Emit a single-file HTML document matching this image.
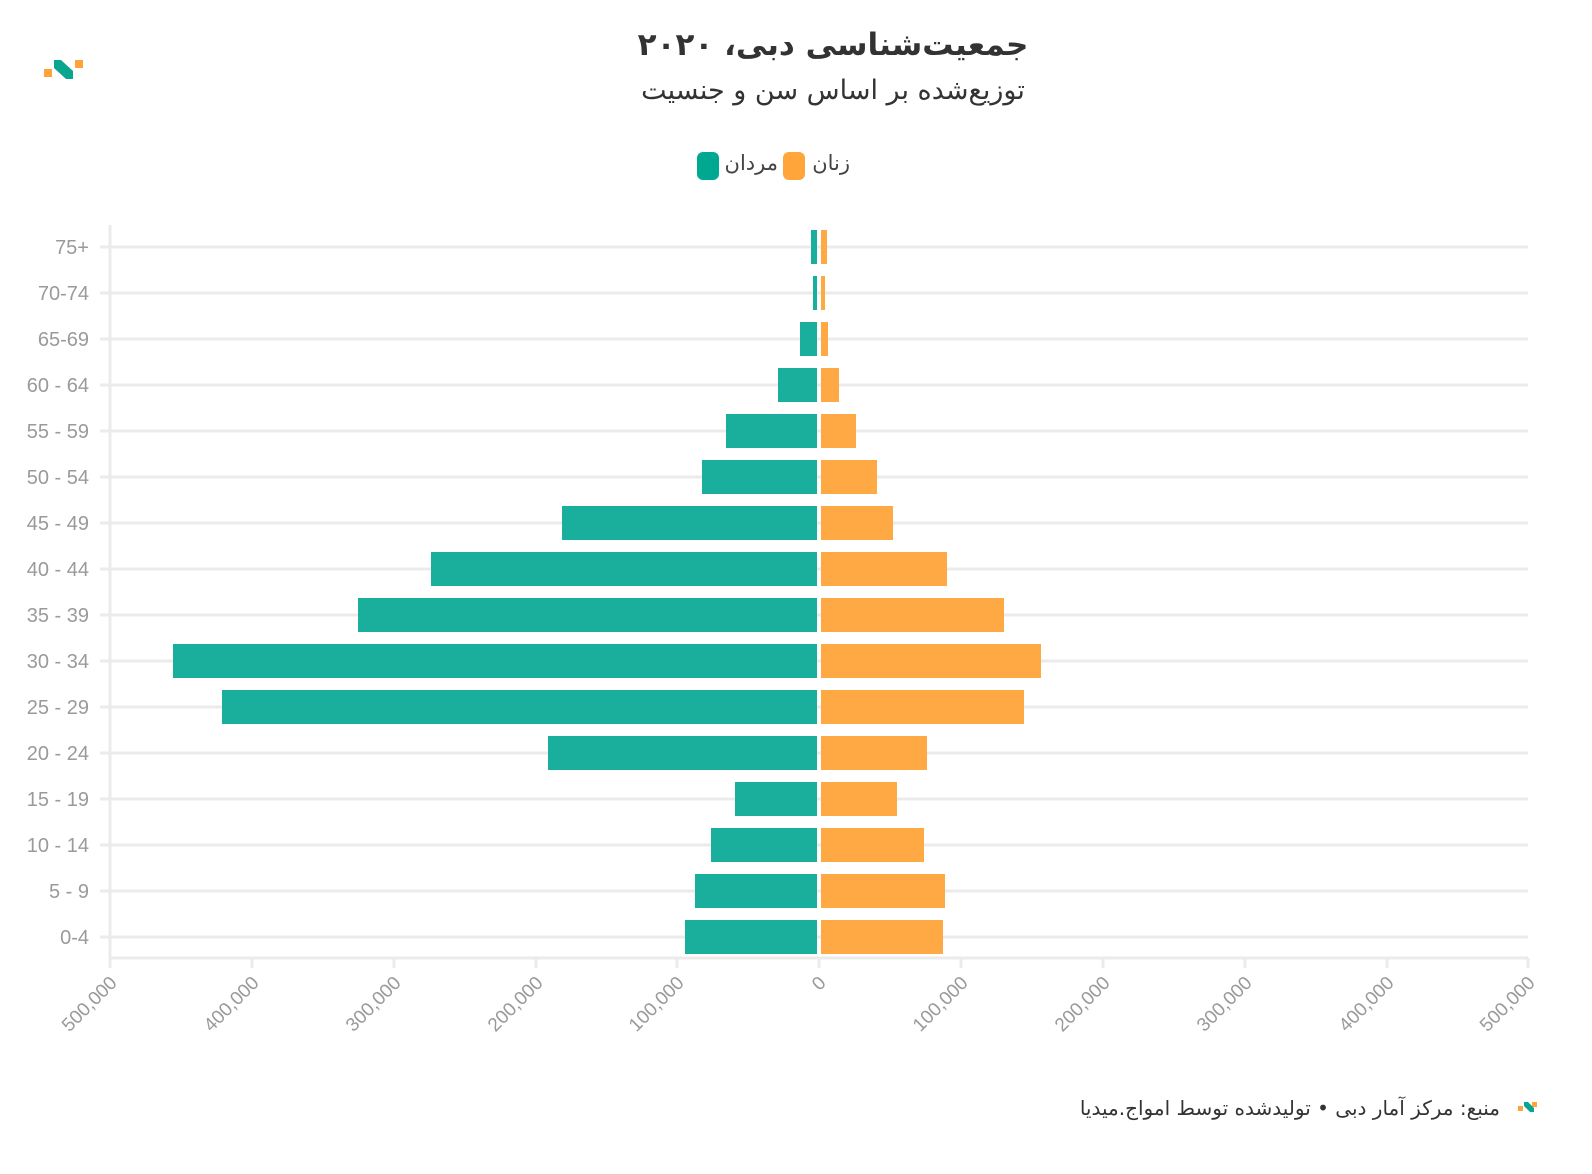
<!DOCTYPE html>
<html><head><meta charset="utf-8"><style>
html,body{margin:0;padding:0;background:#fff;width:1592px;height:1174px;overflow:hidden}
svg{display:block;position:absolute;left:0;top:0}
.t{position:absolute;direction:rtl;white-space:nowrap;font-family:"DejaVu Sans","Liberation Sans",sans-serif;color:#333;line-height:1}
</style></head><body>
<svg width="1592" height="1174" viewBox="0 0 1592 1174" xmlns="http://www.w3.org/2000/svg" font-family="Liberation Sans, DejaVu Sans, sans-serif">
<g>
<rect x="44" y="69" width="8" height="8" fill="#ffa23a"/>
<rect x="75" y="60" width="8" height="8" fill="#ffa23a"/>
<path d="M54 60 L61 60 L73 71 L73 79 L66 79 L54 68 Z" fill="#0aa58f"/>
</g>
<rect x="697" y="152" width="22" height="28" rx="6" fill="#00a892"/>
<rect x="783" y="152" width="22" height="28" rx="6" fill="#ffa53a"/>
<g stroke="#ebebeb" stroke-width="3">
<line x1="110" y1="225" x2="110" y2="968"/>
<line x1="110" y1="958" x2="1528" y2="958"/>
<line x1="252" y1="958" x2="252" y2="968"/><line x1="394" y1="958" x2="394" y2="968"/><line x1="536" y1="958" x2="536" y2="968"/><line x1="677" y1="958" x2="677" y2="968"/><line x1="819" y1="958" x2="819" y2="968"/><line x1="961" y1="958" x2="961" y2="968"/><line x1="1103" y1="958" x2="1103" y2="968"/><line x1="1245" y1="958" x2="1245" y2="968"/><line x1="1387" y1="958" x2="1387" y2="968"/><line x1="1528" y1="958" x2="1528" y2="968"/>
</g>
<g id="grid" stroke="#ebebeb" stroke-width="3"></g>
<g id="bars"></g>
<g id="ylab" font-size="20" fill="#9a9a9a" text-anchor="end"></g>
<g id="xlab" font-size="19" fill="#9a9a9a" text-anchor="end"></g>
<rect x="1518" y="1106" width="5" height="5" fill="#ffa23a"/>
<rect x="1532" y="1102" width="5" height="5" fill="#ffa23a"/>
<path d="M1524 1102 L1528 1102 L1534 1108 L1534 1112 L1530 1112 L1524 1106 Z" fill="#0aa58f"/>
</svg>
<div class="t" style="left:0;width:1666px;text-align:center;top:30px;font-size:31px;font-weight:bold;letter-spacing:-1px">جمعیت‌شناسی دبی، ۲۰۲۰</div>
<div class="t" style="left:0;width:1666px;text-align:center;top:77px;font-size:27px;letter-spacing:-0.5px">توزیع‌شده بر اساس سن و جنسیت</div>
<div class="t" style="right:742px;top:153px;font-size:21px;color:#444">زنان</div>
<div class="t" style="right:814px;top:153px;font-size:21px;color:#444">مردان</div>
<div class="t" style="right:92px;top:1098px;font-size:20px">منبع: مرکز آمار دبی • تولیدشده توسط امواج.میدیا</div>
<script>
var labels=["75+","70-74","65-69","60 - 64","55 - 59","50 - 54","45 - 49","40 - 44","35 - 39","30 - 34","25 - 29","20 - 24","15 - 19","10 - 14","5 - 9","0-4"];
var m=[811,813,800,778,726,702,562,431,358,173,222,548,735,711,695,685];
var f=[827,825,828,839,856,877,893,947,1004,1041,1024,927,897,924,945,943];
var ns="http://www.w3.org/2000/svg";
function el(t,a,p){var e=document.createElementNS(ns,t);for(var k in a)e.setAttribute(k,a[k]);document.getElementById(p).appendChild(e);return e;}
for(var i=0;i<16;i++){var y=247+i*46;
el("line",{x1:100,y1:y,x2:1528,y2:y},"grid");
el("rect",{x:m[i],y:y-17,width:817-m[i],height:34,fill:"#1aaf9c"},"bars");
el("rect",{x:821,y:y-17,width:f[i]-821,height:34,fill:"#ffa944"},"bars");
el("text",{x:89,y:y+7},"ylab").textContent=labels[i];}
var xt=[110,252,394,536,677,819,961,1103,1245,1387,1528];
var xl=["500,000","400,000","300,000","200,000","100,000","0","100,000","200,000","300,000","400,000","500,000"];
for(var j=0;j<11;j++){el("text",{x:xt[j]+8,y:984,transform:"rotate(-45 "+(xt[j]+8)+" 984)"},"xlab").textContent=xl[j];}
</script>
</body></html>
